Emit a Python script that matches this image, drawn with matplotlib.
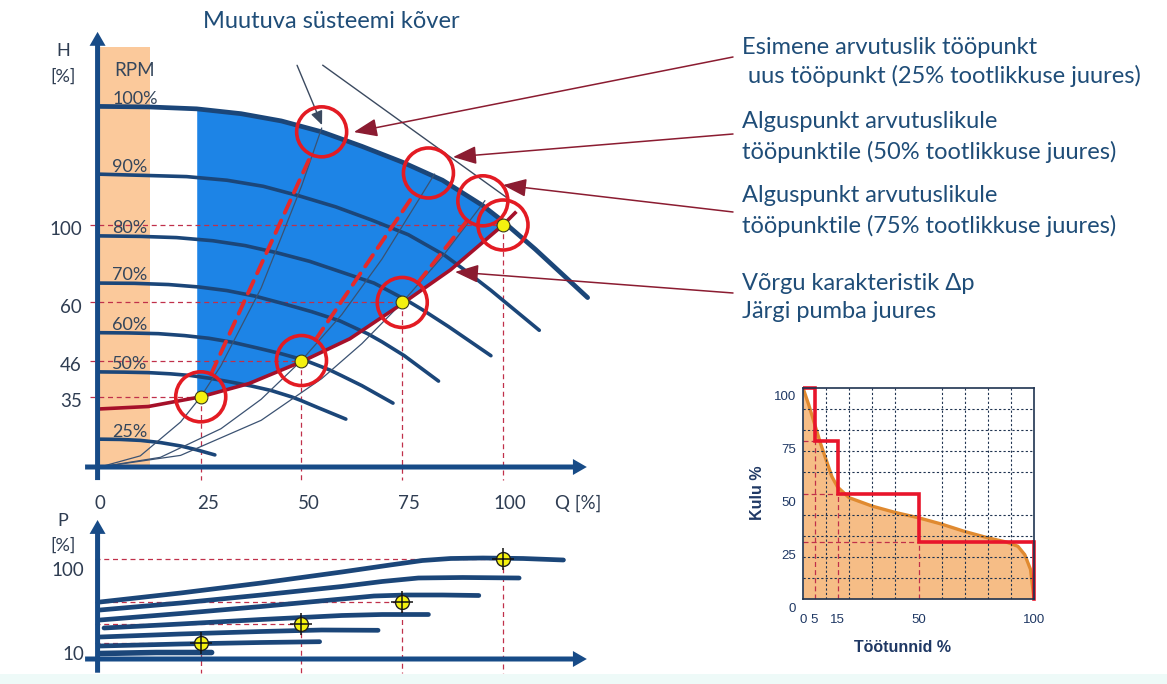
import numpy as np
import matplotlib.pyplot as plt
from matplotlib import transforms
from matplotlib.patches import Rectangle

plt.rcParams['font.family'] = ['Lato', 'DejaVu Sans']

# --- andmed (loetud jooniselt) ---
# tööpunktid: Q [%] ja kõrgus diagrammil, sildid teljel
Q_OP = [25, 50, 75, 100]
H_OP = [29, 44, 68, 100]
H_LABELS = ['35', '46', '60', '100']
# alguspunktid 100% pöörete kõveral
Q_START = [55, 81.5, 95]
H_START = [138.5, 121.5, 110]

RPM_LABELS = ['100%', '90%', '80%', '70%', '60%', '50%', '25%']
q_n100 = [0, 12, 24, 35, 45, 55, 65, 75, 85, 95, 100, 108, 121]
h_n100 = [149, 148.8, 148, 146, 143, 138.5, 132.5, 126, 118.5, 108, 101.5, 90, 70]
q_n90 = [0, 11, 21.5, 31.5, 40.5, 49.5, 58.5, 67.5, 76.5, 85.5, 90, 97, 109]
h_n90 = [121, 120.5, 120, 118.5, 116, 112, 107.5, 102, 96, 87.5, 82, 73, 56.5]
q_n80 = [0, 10, 19, 28, 36, 44, 52, 60, 68, 76, 80, 86.5, 97]
h_n80 = [95.5, 95.3, 94.8, 93.5, 91.5, 88.5, 85, 80.5, 76, 69, 65, 58, 46]
q_n70 = [0, 8.5, 17, 24.5, 31.5, 38.5, 45.5, 52.5, 59.5, 66.5, 70, 75.5, 84]
h_n70 = [76, 75.9, 75.4, 74.4, 72.9, 70.6, 67.5, 64.2, 60.4, 55, 51.7, 46, 35.5]
q_n60 = [0, 7, 14.5, 21, 27, 33, 39, 45, 51, 57, 60, 65, 72.7]
h_n60 = [55.5, 55.4, 55.1, 54.3, 53.2, 51.5, 49.2, 46.8, 44, 40.1, 37.7, 33.6, 26.4]
q_n50 = [0, 6, 12, 17.5, 22.5, 27.5, 32.5, 37.5, 42.5, 47.5, 50, 54, 61]
h_n50 = [39.3, 39.2, 39, 38.5, 37.8, 36.6, 35.1, 33.5, 31.6, 29, 27.4, 24.6, 19.8]
q_n25 = [0, 5, 10, 15, 20, 24, 28.5]
h_n25 = [11.5, 11.4, 11, 10.1, 8.7, 7.1, 5]
PUMP = [(q_n100, h_n100), (q_n90, h_n90), (q_n80, h_n80), (q_n70, h_n70),
        (q_n60, h_n60), (q_n50, h_n50), (q_n25, h_n25)]

# võrgu karakteristik
Q_SYS = [0, 12, 25, 37, 50, 62, 75, 87, 100, 103]
H_SYS = [24, 25, 29, 34.5, 43.5, 53, 67.5, 81.5, 100, 105]

# süsteemi kõverad (paraboolid läbi nullpunkti)
q_par1 = [0, 10, 20, 25, 30, 40, 50, 55]
h_par1 = [0, 4.6, 18.6, 29, 41.8, 74, 116, 140]
q_par2 = [0, 15, 30, 40, 50, 60, 70, 83]
h_par2 = [0, 4, 15.8, 28, 44, 63, 86, 121]
q_par3 = [0, 20, 40, 55, 65, 75, 85, 95.5]
h_par3 = [0, 4.8, 19.3, 36.5, 51, 68, 87, 110]

# võimsus
P_OP = [15.7, 34.7, 57, 100]
P_LABELS = ['10', '100']
qa = [0, 20, 40, 60, 72, 80, 87, 95, 105, 115]
pa = [57, 66, 76, 87, 94, 98.5, 100.5, 101, 100.5, 99]
qb = [0, 20, 40, 60, 70, 79, 90, 104]
pb = [49, 56, 64, 72.5, 77.5, 81, 81.5, 81]
qc = [0, 20, 40, 60, 68, 76, 85, 94]
pc = [39, 45.5, 52.5, 60, 63, 64, 64, 63.5]
qd = [1, 20, 40, 60, 70, 81.5]
pd = [31, 35, 39.5, 43.5, 44.5, 44.5]
qe = [0, 20, 40, 55, 69]
pe = [22, 25, 27.5, 29, 28.7]
qf = [0, 20, 40, 54.5]
pf = [13, 15, 16.5, 17.3]
qg = [0, 14, 27.7]
pg = [5.5, 6.5, 6.5]
POWER = [(qa, pa), (qb, pb), (qc, pc), (qd, pd), (qe, pe), (qf, pf), (qg, pg)]

# kestusgraafik
DUR_X = [0, 2.5, 5, 7.5, 10, 12.5, 15, 20, 30, 40, 50, 60, 70, 80, 88, 93, 96, 98.5, 100]
DUR_Y = [100, 92, 83, 74, 66, 58, 53, 48, 44, 41, 38.5, 35.5, 32, 29, 27, 25, 21, 14, 0]
STEP_X = [0, 5, 15, 50, 100]
STEP_Y = [100, 75, 50, 27]

# --- värvid ---
AXIS_C = '#174b87'
CURVE_C = '#1b4679'
TXT_C = '#2f3d52'
NOTE_C = '#1f4d78'
DROP_C = '#c0304a'
ARR_C = '#8b1c31'

W, Hp = 1167, 684
fig = plt.figure(figsize=(W / 100, Hp / 100), dpi=100)
fig.patches.append(Rectangle((0, 0), 1, 10 / Hp, transform=fig.transFigure,
                             fc='#eefaf8', ec='none', zorder=-1))


def fp(x, y):
    return x / W, 1 - y / Hp


# ---------- H-Q diagramm ----------
ax = fig.add_axes([0, 0, 1, 1])
ax.set_xlim(-24.81, 264.76)
ax.set_ylim(-89.67, 192.98)
ax.axis('off')

ax.fill_between([0, 12.4], 0, 173.5, color='#fbc99b', lw=0, zorder=1)
qs = np.linspace(24, 100, 80)
ax.fill_between(qs, np.interp(qs, Q_SYS, H_SYS), np.interp(qs, q_n100, h_n100),
                color='#1d84e6', lw=0, zorder=2)

for q, h in zip(Q_OP, H_OP):
    ax.plot([-2.5, q], [h, h], color=DROP_C, lw=0.9, dashes=(4, 3), zorder=3)
    ax.plot([q, q], [h, -5.4], color=DROP_C, lw=0.9, dashes=(4, 3), zorder=3)

for i, ((q, h), lab) in enumerate(zip(PUMP, RPM_LABELS)):
    ax.plot(q, h, color=CURVE_C, lw=3.4 if i == 0 else 2.6,
            solid_capstyle='round', zorder=4)
    ax.annotate(lab, (3.0, h[0]), xytext=(0, 5.5), textcoords='offset points',
                ha='left', va='center', fontsize=13, color='#34465c', zorder=6)
fig.text(*fp(135, 70), 'RPM', ha='center', va='center', fontsize=13.5, color='#34465c')

for q, h in [(q_par1, h_par1), (q_par2, h_par2), (q_par3, h_par3)]:
    ax.plot(q, h, color='#3b5272', lw=0.9, zorder=5)

ax.plot(Q_SYS, H_SYS, color='#a5102a', lw=2.6, zorder=6)

for q0, h0, q1, h1 in zip(Q_OP[:3], H_OP[:3], Q_START, H_START):
    ax.annotate('', xy=(q1, h1), xytext=(q0, h0),
                arrowprops=dict(arrowstyle='-', color='#e52a2a', lw=2.8,
                                linestyle=(0, (3.5, 2.2)), shrinkA=18, shrinkB=18),
                zorder=7)

ax.scatter(Q_OP + Q_START, H_OP + H_START, s=1296, facecolors='none',
           edgecolors='#e31b23', linewidths=2.6, zorder=8)
ax.scatter(Q_OP, H_OP, s=85, color='#f4f10f', edgecolors='#3a3a1a',
           linewidths=0.8, zorder=9)

# muutuva süsteemi kõvera viited
ax.annotate('', xy=(55.1, 141.3), xytext=(48.9, 166),
            arrowprops=dict(arrowstyle='-|>,head_length=0.7,head_width=0.3',
                            color='#3b4a60', lw=1, mutation_scale=12,
                            shrinkA=0, shrinkB=0), zorder=5)
ax.plot([55.3, 100.7], [166, 111.6], color='#3b4a60', lw=1, zorder=5)

axis_arrow = dict(arrowstyle='simple,head_length=1.0,head_width=1.15,tail_width=0.36',
                  mutation_scale=10, color=AXIS_C, lw=0, shrinkA=0, shrinkB=0)
ax.annotate('', xy=(-0.6, 179.8), xytext=(-0.6, -5.4), arrowprops=axis_arrow, zorder=10)
ax.annotate('', xy=(120.8, 0), xytext=(-3.7, 0), arrowprops=axis_arrow, zorder=10)

fig.text(*fp(63, 51), 'H', ha='center', va='center', fontsize=13, color=TXT_C)
fig.text(*fp(63, 77), '[%]', ha='center', va='center', fontsize=13, color=TXT_C)
for h, lab in zip(H_OP, H_LABELS):
    ax.annotate(lab, (-4.5, h), xytext=(0, -3.5), textcoords='offset points',
                ha='right', va='center', fontsize=13.5, color=TXT_C)

for q in [0] + Q_OP:
    ax.annotate(str(q), (q, -15), xytext=(5 if q else 0, 0), textcoords='offset points',
                ha='center', va='center', fontsize=13.5, color=TXT_C)
fig.text(*fp(555, 503), 'Q [%]', ha='left', va='center', fontsize=13.5, color=TXT_C)

fig.text(*fp(331, 22), 'Muutuva süsteemi kõver', ha='center', va='center',
         fontsize=17, color=NOTE_C)

notes = [
    ('Esimene arvutuslik tööpunkt', 742, 47),
    (' uus tööpunkt (25% tootlikkuse juures)', 742, 76),
    ('Alguspunkt arvutuslikule', 742, 121),
    ('tööpunktile (50% tootlikkuse juures)', 742, 152),
    ('Alguspunkt arvutuslikule', 742, 195),
    ('tööpunktile (75% tootlikkuse juures)', 742, 226),
    ('Võrgu karakteristik Δp', 742, 283),
    ('Järgi pumba juures', 742, 312),
]
for s, x, y in notes:
    fig.text(*fp(x, y), s, ha='left', va='center', fontsize=17, color=NOTE_C)

pointers = [((63, 138.4), (733, 57)), ((87.6, 128.1), (733, 134)),
            ((100, 116.5), (733, 212)), ((88.1, 80.6), (733, 293))]
for tip, start in pointers:
    ax.annotate('', xy=tip, xytext=(start[0], Hp - start[1]), textcoords='figure pixels',
                arrowprops=dict(arrowstyle='-|>,head_length=0.9,head_width=0.35',
                                color=ARR_C, lw=1.1, mutation_scale=16,
                                shrinkA=0, shrinkB=0), zorder=11)

# ---------- P-Q diagramm ----------
ax2 = fig.add_axes([0, 0, 1, 1])
ax2.set_xlim(-24.81, 264.76)
ax2.set_ylim(-25, 659)
ax2.axis('off')

for q, p in zip(Q_OP, P_OP):
    ax2.plot([-1.2, q], [p, p], color=DROP_C, lw=0.9, dashes=(4, 3), zorder=3)
    ax2.plot([q, q], [p, -13.7], color=DROP_C, lw=0.9, dashes=(4, 3), zorder=3)
for i, (q, p) in enumerate(POWER):
    ax2.plot(q, p, color=CURVE_C, lw=3.4 if i < 6 else 4, solid_capstyle='round', zorder=4)
ax2.scatter(Q_OP, P_OP, s=100, color='#f4f10f', edgecolors='#222222',
            linewidths=1, zorder=8)
ax2.scatter(Q_OP, P_OP, s=260, marker='+', color='#111111', linewidths=1.1, zorder=9)

ax2.annotate('', xy=(-0.6, 139), xytext=(-0.6, -13.7), arrowprops=axis_arrow, zorder=10)
ax2.annotate('', xy=(120.8, 0), xytext=(-3.7, 0), arrowprops=axis_arrow, zorder=10)
fig.text(*fp(63, 521), 'P', ha='center', va='center', fontsize=13, color=TXT_C)
fig.text(*fp(63, 546), '[%]', ha='center', va='center', fontsize=13, color=TXT_C)
for p, lab in zip([P_OP[0], P_OP[-1]], P_LABELS):
    ax2.annotate(lab, (-4, p), xytext=(0, -2), textcoords='offset points',
                 ha='right', va='top', fontsize=13.5, color=TXT_C)

# ---------- kestusgraafik ----------
ax3 = fig.add_axes([803 / W, (Hp - 599) / Hp, 231 / W, 211 / Hp])
ax3.set_xlim(0, 100)
ax3.set_ylim(0, 100)
ax3.fill_between(DUR_X, DUR_Y, color='#f6bd86', lw=0, zorder=1)
ax3.plot(DUR_X, DUR_Y, color='#e08a30', lw=2.4, zorder=2)
for i in range(1, len(STEP_Y)):
    x, y = STEP_X[i], STEP_Y[i]
    ax3.plot([0, x], [y, y], color='#c0304a', lw=0.9, dashes=(4, 2.5), zorder=3)
    ax3.plot([x, x], [0, y], color='#c0304a', lw=0.9, dashes=(4, 2.5), zorder=3)
ax3.stairs(STEP_Y, STEP_X, baseline=None, color='#e8152b', lw=2.6, zorder=5, clip_on=False)
ax3.plot([STEP_X[-1], STEP_X[-1]], [STEP_Y[-1], 0], color='#e8152b', lw=2.6, zorder=5,
         clip_on=False)

ax3.set_xticks(STEP_X)
ax3.set_yticks([0, 25, 50, 75, 100])
ax3.set_xticks(range(0, 101, 10), minor=True)
ax3.set_yticks(range(0, 101, 10), minor=True)
ax3.grid(which='minor', color='#1f3350', lw=0.8, dashes=(2, 2), zorder=4)
ax3.set_axisbelow(False)
ax3.tick_params(which='both', length=0, labelsize=9.5, labelcolor='#1f3864')
ax3.tick_params(axis='x', pad=11)
ax3.tick_params(axis='y', pad=5)
for lab in ax3.get_xticklabels() + ax3.get_yticklabels():
    lab.set_fontfamily('Liberation Sans')
off = transforms.ScaledTranslation(0, -8 / 100, fig.dpi_scale_trans)
for lab in ax3.get_yticklabels():
    lab.set_transform(lab.get_transform() + off)
for sp in ax3.spines.values():
    sp.set_color('#1f3350')
    sp.set_linewidth(1.2)
    sp.set_zorder(6)
fig.text(*fp(757, 493), 'Kulu %', rotation=90, ha='center', va='center',
         fontsize=11.5, fontweight='bold', color='#1f3864', family='Liberation Sans')
fig.text(*fp(903, 647), 'Töötunnid %', ha='center', va='center',
         fontsize=11.5, fontweight='bold', color='#1f3864', family='Liberation Sans')

fig.savefig('out.png', dpi=100)
